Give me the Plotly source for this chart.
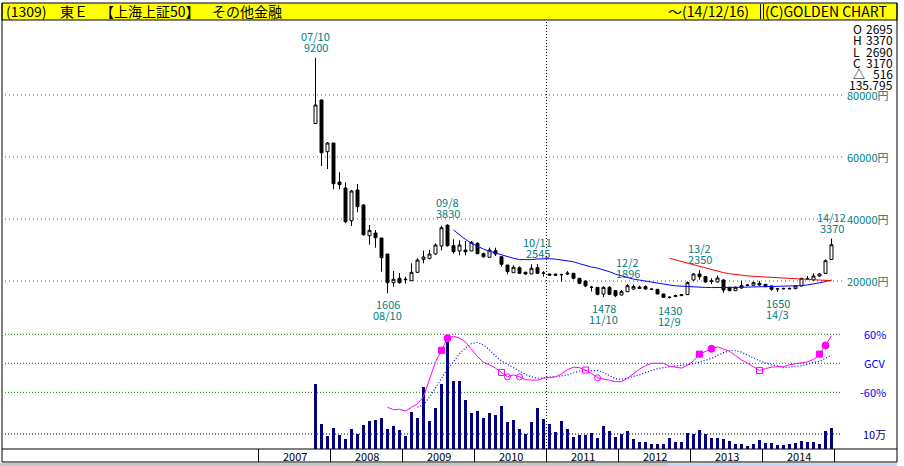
import plotly.graph_objects as go

# ---------------- data (monthly, Oct 2007 .. Dec 2014) ----------------
months = [f"{2007 + (9 + k) // 12}-{(9 + k) % 12 + 1:02d}" for k in range(87)]
opens = [7081, 7839, 6171, 6452, 5194, 5000, 3945, 4935, 4452, 3461, 3548, 3387,
         2871, 1945, 2087, 2040, 2010, 2281, 2700, 2732, 2871, 3129, 3800, 3140,
         2968, 3000, 2968, 3216, 2881, 2765, 2977, 2784, 2516, 2268, 2429, 2281,
         2226, 2429, 2248, 2226, 2220, 2200, 2260, 2248, 2086, 2000, 1790, 1795,
         1580, 1795, 1690, 1548, 1656, 1740, 1760, 1817, 1740, 1731, 1581, 1480,
         1500, 1530, 1560, 2032, 2226, 2140, 1990, 1968, 2032, 1796, 1688, 1774,
         1870, 1860, 1924, 1892, 1839, 1740, 1750, 1760, 1753, 1839, 2070, 2032,
         2161, 2247, 2695]
highs = [9200, 7850, 6480, 6452, 5506, 5184, 4935, 5129, 4484, 3806, 3645, 3387,
         2871, 2323, 2258, 2139, 2571, 2732, 2977, 3000, 3216, 3780, 3830, 3345,
         3313, 3290, 3290, 3250, 2913, 3074, 3074, 2784, 2516, 2506, 2470, 2300,
         2540, 2545, 2320, 2230, 2240, 2240, 2320, 2260, 2100, 2010, 1840, 1800,
         1830, 1839, 1700, 1710, 1896, 1880, 1850, 1860, 1760, 1740, 1590, 1500,
         1560, 1580, 1990, 2250, 2350, 2160, 2090, 2172, 2060, 1810, 1820, 2010,
         1900, 1980, 2000, 1900, 1850, 1770, 1780, 1790, 1850, 2100, 2160, 2250,
         2260, 2700, 3370]
lows = [7081, 5710, 5613, 4958, 4958, 3861, 3774, 4216, 3461, 3171, 3074, 2300,
        1606, 1816, 1913, 1913, 2010, 2260, 2571, 2700, 2850, 2990, 3110, 2880,
        2829, 2830, 2968, 2881, 2752, 2765, 2806, 2461, 2216, 2268, 2230, 2200,
        2226, 2230, 2140, 2170, 2160, 1977, 2200, 2050, 1900, 1800, 1660, 1538,
        1478, 1548, 1484, 1530, 1640, 1720, 1740, 1720, 1710, 1570, 1460, 1430,
        1480, 1510, 1550, 1990, 2040, 1950, 1900, 1950, 1624, 1670, 1680, 1760,
        1840, 1850, 1850, 1800, 1690, 1650, 1720, 1730, 1740, 1830, 2030, 2020,
        2140, 2230, 2690]
closes = [7677, 6139, 6452, 5139, 5106, 3913, 4903, 4397, 3494, 3635, 3397, 2752,
          1945, 2055, 1945, 2055, 2281, 2677, 2774, 2871, 3161, 3720, 3140, 2945,
          3161, 2945, 3248, 2881, 2784, 3000, 2871, 2539, 2300, 2442, 2248, 2226,
          2410, 2248, 2258, 2190, 2190, 2210, 2230, 2087, 1925, 1840, 1800, 1570,
          1795, 1570, 1527, 1656, 1849, 1820, 1800, 1742, 1731, 1581, 1473, 1470,
          1527, 1560, 1946, 2226, 2140, 1968, 2000, 2097, 1710, 1688, 1796, 1849,
          1860, 1946, 1870, 1817, 1731, 1753, 1760, 1750, 1839, 2086, 2065, 2161,
          2226, 2654, 3170]
volume_man = [43.3, 16.7, 8.7, 14, 9.6, 6.9, 13.3, 10, 16, 18.9, 19.6, 20.4,
              13.3, 15.3, 12.9, 8.7, 24.7, 20.7, 41.3, 18.9, 27.3, 43.3, 71.6, 45.3,
              45.3, 32.7, 24, 25.6, 20.7, 24, 22.7, 28.7, 18, 19.3, 13.3, 10,
              18, 27.3, 20, 16.7, 11.3, 18.7, 13.3, 8, 9.6, 9.6, 10.4, 7.3,
              15.3, 12.2, 8, 9.8, 12, 6.7, 4.7, 4.7, 3.3, 3.3, 3.3, 7.3,
              4.7, 4.7, 10.7, 9.8, 12.7, 9.8, 7.3, 7.3, 6.7, 5.3, 3.3, 3.3,
              2, 3.3, 6, 4, 4, 2.7, 2.7, 3.3, 4, 5.3, 4.7, 4.7,
              3.3, 12, 14]

# moving averages
ma_blue_start = 23
ma_blue = [3645, 3480, 3340, 3216, 3120, 3030, 2960, 2900, 2840, 2780, 2732, 2690,
           2680, 2690, 2710, 2725, 2720, 2705, 2680, 2650, 2620, 2560, 2500, 2450,
           2415, 2360, 2300, 2220, 2160, 2110, 2060, 2030, 1995, 1960, 1930, 1900,
           1870, 1845, 1830, 1815, 1800, 1797, 1792, 1788, 1785, 1786, 1790, 1795,
           1798, 1802, 1805, 1806, 1810, 1813, 1816, 1822, 1828, 1835, 1850, 1875,
           1903, 1940, 1985, 2030]
ma_red_start = 59
ma_red = [2732, 2680, 2620, 2571, 2515, 2461, 2410, 2350, 2310, 2270, 2235, 2205,
          2185, 2165, 2150, 2139, 2132, 2125, 2120, 2112, 2100, 2090, 2080, 2065,
          2050, 2032, 2020, 2010]

# GCV indicator (%)
gcv_start = 12
gcv = [-91, -96, -95, -99, -91, -84, -69, -33, 3, 27, 52, 56,
       52, 44, 28, 14, 2, -3, -10, -19, -28, -24, -28, -34,
       -35, -35, -31, -29, -28, -22, -13, -8, -9, -14, -21, -30,
       -32, -35, -38, -38, -31, -22, -12, -5, 0, 0, 0, -6,
       -8, -10, -4, 5, 19, 25, 30, 34, 30, 25, 16, 7,
       0, -7, -15, -11, -8, -7, -7, -3, -1, 0, 3, 8,
       19, 37, 57]
sig_start = 17
gcv_signal = [-91, -86, -70, -50, -31, -12, 3, 20, 32, 41, 43, 38,
              28, 15, 5, -2, -9, -16, -23, -28, -31, -30, -29, -28,
              -26, -24, -20, -16, -15, -15, -15, -19, -26, -32, -33, -31,
              -27, -24, -19, -15, -11, -9, -7, -5, -4, -3, -1, 3,
              7, 10, 16, 22, 26, 26, 23, 17, 11, 5, 1, -3,
              -5, -9, -8, -7, -5, -2, 2, 4, 10, 17]
mk_fill_square = [21, 64, 84]
mk_fill_circle = [22, 66, 85]
mk_open_square = [31, 45, 74]
mk_open_circle = [32, 34, 47]

# peak / trough labels
lab_idx = [0, 12, 22, 37, 48, 52, 59, 64, 77, 86]
lab_date = ["07/10", "08/10", "09/8", "10/11", "11/10", "12/2", "12/9", "13/2", "14/3", "14/12"]
lab_kind = ["H", "L", "H", "H", "L", "H", "L", "H", "L", "H"]

price_ticks = [8000, 6000, 4000, 2000]
price_tick_text = ["80000円", "60000円", "40000円", "20000円"]
gcv_ticks = [60, 0, -60]
gcv_tick_text = ["60%", "GCV", "-60%"]
vol_tick = 10
vol_tick_text = "10万"
years = [2007, 2008, 2009, 2010, 2011, 2012, 2013, 2014]

info_keys = ["O", "H", "L", "C", "△", ""]
info_vals = ["2695", "3370", "2690", "3170", "516", "135.795"]

# ---------------- figure ----------------
W, H = 904, 466
ML, MR, MT, MB = 2, 7, 20, 17
PW, PH = W - ML - MR, H - MT - MB


def PX(x):
    return (x - ML) / PW


def PY(y):
    return (H - MB - y) / PH


FONT = "Noto Sans CJK JP, Noto Sans, DejaVu Sans, sans-serif"
TEAL = "#008080"
xi = list(range(len(months)))

fig = go.Figure()

fig.add_trace(go.Candlestick(
    x=xi, open=opens, high=highs, low=lows, close=closes,
    increasing=dict(line=dict(color="black", width=1), fillcolor="white"),
    decreasing=dict(line=dict(color="black", width=1), fillcolor="black"),
    whiskerwidth=0, hoverinfo="skip", xaxis="x", yaxis="y"))

fig.add_trace(go.Scatter(x=list(range(ma_blue_start, ma_blue_start + len(ma_blue))), y=ma_blue,
                         mode="lines", line=dict(color="#0000ff", width=1), xaxis="x", yaxis="y"))
fig.add_trace(go.Scatter(x=list(range(ma_red_start, ma_red_start + len(ma_red))), y=ma_red,
                         mode="lines", line=dict(color="#ff0000", width=1), xaxis="x", yaxis="y"))

# volume
fig.add_trace(go.Bar(x=xi, y=volume_man, width=0.5, marker=dict(color="#000080", line=dict(width=0)),
                     xaxis="x", yaxis="y2"))

# indicator
gx = list(range(gcv_start, gcv_start + len(gcv)))
fig.add_trace(go.Scatter(x=list(range(sig_start, sig_start + len(gcv_signal))), y=gcv_signal,
                         mode="lines", line=dict(color="#0000ff", width=1.2, dash="1px,2px"),
                         xaxis="x", yaxis="y3"))
fig.add_trace(go.Scatter(x=gx, y=gcv, mode="lines", line=dict(color="#ff00ff", width=1),
                         xaxis="x", yaxis="y3"))


def gv(i):
    return gcv[i - gcv_start]


for idxs, sym, sz in [(mk_fill_square, "square", 6), (mk_fill_circle, "circle", 7),
                      (mk_open_square, "square-open", 6), (mk_open_circle, "circle-open", 6)]:
    fig.add_trace(go.Scatter(x=idxs, y=[gv(i) for i in idxs], mode="markers",
                             marker=dict(symbol=sym, size=sz, color="#ff00ff",
                                         line=dict(color="#ff00ff", width=1)),
                             xaxis="x", yaxis="y3"))

shapes = []
annots = []

# header
shapes.append(dict(type="rect", xref="paper", yref="paper", x0=PX(2), x1=PX(897), y0=PY(3), y1=PY(20),
                   fillcolor="#ffff00", line=dict(color="black", width=1), layer="above"))
for sx in (760.5, 763.5):
    shapes.append(dict(type="line", xref="paper", yref="paper", x0=PX(sx), x1=PX(sx), y0=PY(4), y1=PY(19),
                       line=dict(color="black", width=1)))
for txt, x0 in [("(1309)", 4), ("東Ｅ", 58), ("【上海上証50】", 98), ("その他金融", 210)]:
    annots.append(dict(text=txt, xref="paper", yref="paper", x=PX(x0), y=PY(11.5), xanchor="left",
                       yanchor="middle", showarrow=False, font=dict(family=FONT, size=14, color="black")))
annots.append(dict(text="～(14/12/16)", xref="paper", yref="paper", x=PX(751), y=PY(11.5), xanchor="right",
                   yanchor="middle", showarrow=False, font=dict(family=FONT, size=14, color="black")))
annots.append(dict(text="(C)GOLDEN CHART", xref="paper", yref="paper", x=PX(889), y=PY(11.5), xanchor="right",
                   yanchor="middle", showarrow=False, font=dict(family=FONT, size=14, color="black")))

# frame
shapes.append(dict(type="line", xref="paper", yref="paper", x0=PX(2), x1=PX(2), y0=PY(3), y1=PY(462),
                   line=dict(color="black", width=1)))
shapes.append(dict(type="line", xref="paper", yref="paper", x0=PX(897), x1=PX(897), y0=PY(3), y1=PY(462),
                   line=dict(color="black", width=1)))
for yy in (449, 462):
    shapes.append(dict(type="line", xref="paper", yref="paper", x0=PX(2), x1=PX(897), y0=PY(yy), y1=PY(yy),
                       line=dict(color="black", width=1)))
shapes.append(dict(type="rect", xref="paper", yref="paper", x0=PX(0), x1=PX(668), y0=PY(463), y1=PY(467),
                   fillcolor="#c8c8c8", line=dict(width=0)))
shapes.append(dict(type="rect", xref="paper", yref="paper", x0=PX(668), x1=PX(897), y0=PY(463), y1=PY(467),
                   fillcolor="#c8d8f8", line=dict(width=0)))

# year strip
for k, yr in enumerate(years + [years[-1] + 1]):
    b = (yr - 2007) * 12 - 9 - 0.5
    shapes.append(dict(type="line", xref="x", yref="paper", x0=b, x1=b, y0=PY(449), y1=PY(462),
                       line=dict(color="black", width=1)))
for yr in years:
    c = (yr - 2007) * 12 - 9 - 0.5 + 6
    annots.append(dict(text=str(yr), xref="x", yref="paper", x=c, y=PY(455.5), xanchor="center",
                       yanchor="middle", showarrow=False, font=dict(family=FONT, size=11, color="black")))

# price grid
for t, lab in zip(price_ticks, price_tick_text):
    shapes.append(dict(type="line", xref="paper", yref="y", x0=PX(5), x1=PX(842), y0=t, y1=t,
                       line=dict(color=TEAL, width=1, dash="1px,3px"), layer="below"))
    annots.append(dict(text=lab, xref="paper", yref="y", x=PX(891), y=t, xanchor="right", yanchor="middle",
                       showarrow=False, font=dict(family=FONT, size=11, color=TEAL)))

# vertical dotted marker line (start of 2011)
shapes.append(dict(type="line", xref="x", yref="paper", x0=38.5, x1=38.5, y0=0, y1=1,
                   line=dict(color="black", width=1, dash="1px,2px"), layer="below"))

# indicator grid
for t, lab in zip(gcv_ticks, gcv_tick_text):
    shapes.append(dict(type="line", xref="paper", yref="y3", x0=PX(5), x1=PX(842), y0=t, y1=t,
                       line=dict(color="#008000", width=1, dash="1px,2px"), layer="below"))
    annots.append(dict(text=lab, xref="paper", yref="y3", x=PX(888), y=t, xanchor="right", yanchor="middle",
                       showarrow=False, font=dict(family=FONT, size=11, color="#0000ff")))
shapes.append(dict(type="line", xref="paper", yref="y2", x0=PX(5), x1=PX(842), y0=vol_tick, y1=vol_tick,
                   line=dict(color="black", width=1, dash="1px,2px"), layer="below"))
annots.append(dict(text=vol_tick_text, xref="paper", yref="y2", x=PX(888), y=vol_tick, xanchor="right",
                   yanchor="middle", showarrow=False, font=dict(family=FONT, size=11, color="#000080")))

# peak / trough labels
for i, d, k in zip(lab_idx, lab_date, lab_kind):
    if k == "H":
        v = highs[i]
        annots.append(dict(text=str(v), x=i, y=v, xref="x", yref="y", yanchor="bottom", yshift=2,
                           borderpad=0, showarrow=False, font=dict(family=FONT, size=11, color=TEAL)))
        annots.append(dict(text=d, x=i, y=v, xref="x", yref="y", yanchor="bottom", yshift=13,
                           borderpad=0, showarrow=False, font=dict(family=FONT, size=11, color=TEAL)))
    else:
        v = lows[i]
        annots.append(dict(text=str(v), x=i, y=v, xref="x", yref="y", yanchor="top", yshift=-2,
                           borderpad=0, showarrow=False, font=dict(family=FONT, size=11, color=TEAL)))
        annots.append(dict(text=d, x=i, y=v, xref="x", yref="y", yanchor="top", yshift=-13,
                           borderpad=0, showarrow=False, font=dict(family=FONT, size=11, color=TEAL)))

# info box
for n, (k, v) in enumerate(zip(info_keys, info_vals)):
    yy = 29 + n * 11
    if k:
        annots.append(dict(text=k, xref="paper", yref="paper", x=PX(852), y=PY(yy), xanchor="left",
                           yanchor="middle", showarrow=False, borderpad=0,
                           font=dict(family=FONT, size=12, color="black")))
    annots.append(dict(text=v, xref="paper", yref="paper", x=PX(894), y=PY(yy), xanchor="right",
                       yanchor="middle", showarrow=False, borderpad=0,
                       font=dict(family=FONT, size=12, color="black")))

x_lo = -(315.5 - ML) / 6.0
x_hi = x_lo + PW / 6.0
p_hi = (343 - MT) / 0.031
p_lo = -(H - MB - 343) / 0.031
g_hi = (363.3 - MT) / 0.48333
g_lo = -(H - MB - 363.3) / 0.48333

fig.update_layout(
    width=W, height=H, margin=dict(l=ML, r=MR, t=MT, b=MB, pad=0),
    paper_bgcolor="white", plot_bgcolor="white", showlegend=False,
    xaxis=dict(range=[x_lo, x_hi], visible=False, rangeslider=dict(visible=False), fixedrange=True),
    yaxis=dict(range=[p_lo, p_hi], visible=False, fixedrange=True),
    yaxis2=dict(range=[0, PH / 1.5], overlaying="y", visible=False, fixedrange=True),
    yaxis3=dict(range=[g_lo, g_hi], overlaying="y", visible=False, fixedrange=True),
    shapes=shapes, annotations=annots, bargap=0,
    hovermode=False,
)

fig.write_html("out.html", config={"displayModeBar": False},
               post_script="document.body.style.margin='0';document.body.style.overflow='hidden';")
